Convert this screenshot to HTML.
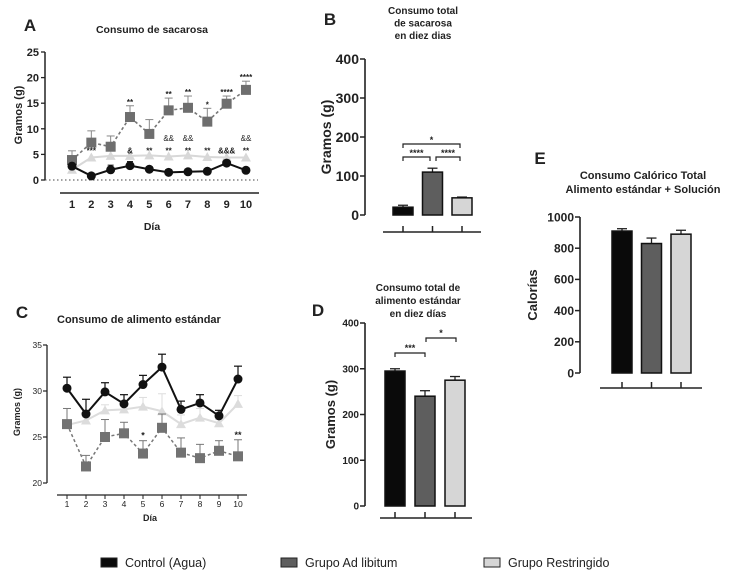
<!DOCTYPE html>
<html><head><meta charset="utf-8"><style>
html,body{margin:0;padding:0;background:#fff;}
svg{display:block;font-family:"Liberation Sans",sans-serif;}
</style></head><body>
<svg id="fig" width="736" height="579" viewBox="0 0 736 579"></svg>
<script>
// ---- data ----
const days = [1,2,3,4,5,6,7,8,9,10];
const aControl = [2.7,0.8,2.0,2.8,2.1,1.5,1.6,1.7,3.3,1.9];
const aControlErr = [0.6,0.3,0.9,0.8,0.5,0.4,0.4,0.4,0.6,0.4];
const aAdlib = [3.9,7.3,6.5,12.3,9.0,13.6,14.1,11.4,14.9,17.6];
const aAdlibErr = [1.8,2.3,2.1,2.2,2.8,2.4,2.3,2.6,1.5,1.7];
const aRestr = [2.0,4.4,4.7,4.7,4.8,4.6,4.8,4.5,4.4,4.4];
const aTicks = [0,5,10,15,20,25];
const aStarsTop = ["","","","**","","**","**","*","****","****"];
const aStarsLow = ["","***","","&","**","**","**","**","&&&","**"];
const aAmpLow = ["","","","","","&&","&&","","","&&"];
const cControl = [30.3,27.5,29.9,28.6,30.7,32.6,28.0,28.7,27.3,31.3];
const cControlErr = [1.2,1.6,1.0,1.0,1.0,1.4,0.9,0.9,0.6,1.4];
const cAdlib = [26.4,21.8,25.0,25.4,23.2,26.0,23.3,22.7,23.5,22.9];
const cAdlibErr = [1.7,1.2,1.9,1.2,1.4,1.5,1.6,1.5,1.1,1.8];
const cRestr = [26.3,26.8,27.9,28.0,28.3,27.8,26.4,27.1,26.5,28.6];
const cRestrErr = [1.8,0.4,0.6,0.6,1.0,1.9,1.0,1.0,0.4,0.9];
const cTicks = [20,25,30,35];
const cStars = ["","","","","*","","","","","**"];
const bValues = [20,110,44];
const bErr = [5,10,2];
const bTicks = [0,100,200,300,400];
const dValues = [295,240,275];
const dErr = [5,12,8];
const dTicks = [0,100,200,300,400];
const eValues = [910,830,890];
const eErr = [15,35,25];
const eTicks = [0,200,400,600,800,1000];
const groupColors = ["#0a0a0a","#5e5e5e","#d6d6d6"];
const legendLabels = ["Control (Agua)","Grupo Ad libitum","Grupo Restringido"];

const NS="http://www.w3.org/2000/svg";
const svg=document.getElementById('fig');
function mk(tag,attrs,parent,text){const e=document.createElementNS(NS,tag);for(const k in attrs)e.setAttribute(k,attrs[k]);if(text!==undefined)e.textContent=text;(parent||svg).appendChild(e);return e;}
function txt(x,y,s,size,opts,parent){opts=opts||{};const e=mk('text',{x:x,y:y,'font-size':size,'font-weight':opts.w||'bold','text-anchor':opts.a||'middle',fill:opts.f||'#222'},parent,s);if(opts.rot)e.setAttribute('transform','rotate(-90 '+x+' '+y+')');return e;}

// ---------- Panel A ----------
(function(){
 const g=mk('g',{});
 const y=v=>180-v*5.12, x=d=>72+(d-1)*19.33;
 txt(30,31,'A',17,{},g);
 txt(152,33,'Consumo de sacarosa',10.5,{},g);
 mk('line',{x1:45,y1:y(25),x2:45,y2:y(0),stroke:'#222','stroke-width':1.5},g);
 aTicks.forEach(t=>{mk('line',{x1:41,y1:y(t),x2:45,y2:y(t),stroke:'#222','stroke-width':1.3},g);txt(39,y(t)+4,String(t),11,{a:'end'},g);});
 mk('line',{x1:45,y1:180,x2:258,y2:180,stroke:'#444','stroke-width':1,'stroke-dasharray':'1.5 2.5'},g);
 mk('line',{x1:60,y1:193,x2:259,y2:193,stroke:'#222','stroke-width':1.5},g);
 days.forEach((d,i)=>txt(x(d),208,String(d),11,{},g));
 txt(152,230,'Día',10.5,{},g);
 txt(22,115,'Gramos (g)',11,{rot:1},g);
 mk('polyline',{points:aRestr.map((v,i)=>x(days[i])+','+y(v)).join(' '),fill:'none',stroke:'#d8d8d8','stroke-width':2},g);
 aRestr.forEach((v,i)=>{const p=mk('polygon',{points:`${x(days[i])},${y(v)-5} ${x(days[i])-5},${y(v)+4} ${x(days[i])+5},${y(v)+4}`,fill:'#d8d8d8'},g);});
 aAdlib.forEach((v,i)=>{const xx=x(days[i]);mk('line',{x1:xx,y1:y(v),x2:xx,y2:y(v+aAdlibErr[i]),stroke:'#888','stroke-width':1},g);mk('line',{x1:xx-4,y1:y(v+aAdlibErr[i]),x2:xx+4,y2:y(v+aAdlibErr[i]),stroke:'#888','stroke-width':1},g);});
 mk('polyline',{points:aAdlib.map((v,i)=>x(days[i])+','+y(v)).join(' '),fill:'none',stroke:'#777','stroke-width':1.6,'stroke-dasharray':'3 2.5'},g);
 aAdlib.forEach((v,i)=>{const r=mk('rect',{x:x(days[i])-5,y:y(v)-5,width:10,height:10,fill:'#6e6e6e'},g);});
 aControl.forEach((v,i)=>{const xx=x(days[i]);mk('line',{x1:xx,y1:y(v),x2:xx,y2:y(v+aControlErr[i]),stroke:'#111','stroke-width':1},g);mk('line',{x1:xx-3,y1:y(v+aControlErr[i]),x2:xx+3,y2:y(v+aControlErr[i]),stroke:'#111','stroke-width':1},g);});
 mk('polyline',{points:aControl.map((v,i)=>x(days[i])+','+y(v)).join(' '),fill:'none',stroke:'#111','stroke-width':2},g);
 aControl.forEach((v,i)=>{const c=mk('circle',{cx:x(days[i]),cy:y(v),r:4.5,fill:'#111'},g);});
 aStarsTop.forEach((s,i)=>{if(s)txt(x(days[i]),y(aAdlib[i]+aAdlibErr[i])-1,s,8,{},g);});
 aStarsLow.forEach((s,i)=>{if(s)txt(x(days[i]),y(5.6)+2,s,8,{},g);});
 aAmpLow.forEach((s,i)=>{if(s)txt(x(days[i]),y(8)+2,s,8,{w:'normal'},g);});
})();

// ---------- Panel C ----------
(function(){
 const g=mk('g',{});
 const y=v=>345+(35-v)*9.2, x=d=>67+(d-1)*19;
 txt(22,318,'C',17,{},g);
 txt(57,323,'Consumo de alimento estándar',11,{a:'start'},g);
 mk('line',{x1:47,y1:y(35),x2:47,y2:y(20),stroke:'#222','stroke-width':1.3},g);
 cTicks.forEach(t=>{mk('line',{x1:43,y1:y(t),x2:47,y2:y(t),stroke:'#222','stroke-width':1.2},g);txt(42,y(t)+3,String(t),8.5,{a:'end',w:'normal'},g);});
 mk('line',{x1:57,y1:495,x2:247,y2:495,stroke:'#222','stroke-width':1.3},g);
 days.forEach(d=>{mk('line',{x1:x(d),y1:495,x2:x(d),y2:499,stroke:'#222'},g);txt(x(d),507,String(d),8.5,{w:'normal'},g);});
 txt(150,521,'Día',9,{},g);
 txt(20,412,'Gramos (g)',9,{rot:1},g);
 cRestr.forEach((v,i)=>{const xx=x(days[i]);mk('line',{x1:xx,y1:y(v),x2:xx,y2:y(v+cRestrErr[i]),stroke:'#ddd'},g);mk('line',{x1:xx-4,y1:y(v+cRestrErr[i]),x2:xx+4,y2:y(v+cRestrErr[i]),stroke:'#ddd'},g);});
 mk('polyline',{points:cRestr.map((v,i)=>x(days[i])+','+y(v)).join(' '),fill:'none',stroke:'#dcdcdc','stroke-width':2},g);
 cRestr.forEach((v,i)=>{const p=mk('polygon',{points:`${x(days[i])},${y(v)-5} ${x(days[i])-5},${y(v)+4} ${x(days[i])+5},${y(v)+4}`,fill:'#dcdcdc'},g);});
 cAdlib.forEach((v,i)=>{const xx=x(days[i]);mk('line',{x1:xx,y1:y(v),x2:xx,y2:y(v+cAdlibErr[i]),stroke:'#777'},g);mk('line',{x1:xx-4,y1:y(v+cAdlibErr[i]),x2:xx+4,y2:y(v+cAdlibErr[i]),stroke:'#777'},g);});
 mk('polyline',{points:cAdlib.map((v,i)=>x(days[i])+','+y(v)).join(' '),fill:'none',stroke:'#777','stroke-width':1.5,'stroke-dasharray':'3 2.5'},g);
 cAdlib.forEach((v,i)=>{const r=mk('rect',{x:x(days[i])-5,y:y(v)-5,width:10,height:10,fill:'#727272'},g);});
 cControl.forEach((v,i)=>{const xx=x(days[i]);mk('line',{x1:xx,y1:y(v),x2:xx,y2:y(v+cControlErr[i]),stroke:'#111','stroke-width':1.2},g);mk('line',{x1:xx-4,y1:y(v+cControlErr[i]),x2:xx+4,y2:y(v+cControlErr[i]),stroke:'#111','stroke-width':1.2},g);});
 mk('polyline',{points:cControl.map((v,i)=>x(days[i])+','+y(v)).join(' '),fill:'none',stroke:'#111','stroke-width':2},g);
 cControl.forEach((v,i)=>{const c=mk('circle',{cx:x(days[i]),cy:y(v),r:4.5,fill:'#111'},g);});
 cStars.forEach((s,i)=>{if(s)txt(x(days[i]),y(cAdlib[i]+cAdlibErr[i])-2,s,9,{},g);});
})();

// ---------- bar panel helper ----------
function barPanel(name,vals,errs,ticks,o){
 const g=mk('g',{});
 const max=ticks[ticks.length-1];
 const y=v=>o.y0-(v/max)*(o.y0-o.yTop);
 mk('line',{x1:o.ax,y1:o.yTop,x2:o.ax,y2:o.y0,stroke:'#222','stroke-width':1.6},g);
 ticks.forEach(t=>{mk('line',{x1:o.ax-5,y1:y(t),x2:o.ax,y2:y(t),stroke:'#222','stroke-width':1.5},g);txt(o.ax-6,y(t)+o.fs*0.36,String(t),o.fs,{a:'end'},g);});
 mk('line',{x1:o.xl1,y1:o.xline,x2:o.xl2,y2:o.xline,stroke:'#222','stroke-width':1.5},g);
 vals.forEach((v,i)=>{
  const cx=o.c0+i*o.step;
  mk('line',{x1:cx,y1:o.xline,x2:cx,y2:o.xline-6,stroke:'#222','stroke-width':1.5},g);
  mk('line',{x1:cx,y1:y(v),x2:cx,y2:y(v+errs[i]),stroke:'#222','stroke-width':1.3},g);
  mk('line',{x1:cx-5,y1:y(v+errs[i]),x2:cx+5,y2:y(v+errs[i]),stroke:'#222','stroke-width':1.3},g);
  const r=mk('rect',{x:cx-o.bw/2,y:y(v),width:o.bw,height:o.y0-y(v),fill:groupColors[i],stroke:'#111','stroke-width':1.5},g);
  
 });
 txt(o.labX,(o.yTop+o.y0)/2,o.ylab,o.labFs,{rot:1},g);
 txt(o.letX,o.letY,o.letter,17,{},g);
 o.title.forEach((t,i)=>txt(o.tx,o.ty+i*o.tl,t,o.tfs,{},g));
 return {g,y};
}
(function(){
 const o={ax:365,yTop:59,y0:215,xline:232,xl1:383,xl2:481,c0:403,step:29.5,bw:20,fs:14,ylab:'Gramos (g)',labFs:14,labX:331,letter:'B',letX:330,letY:25,title:['Consumo total','de sacarosa','en diez dias'],tx:423,ty:14,tl:12.5,tfs:10};
 const {g,y}=barPanel('panel-b',bValues,bErr,bTicks,o);
 const br=(x1,x2,yy,s)=>{mk('polyline',{points:`${x1},${yy+4} ${x1},${yy} ${x2},${yy} ${x2},${yy+4}`,fill:'none',stroke:'#222','stroke-width':1.2},g);txt((x1+x2)/2,yy-1,s,9,{},g);};
 br(403,460,144,'*'); br(403,430,157,'****'); br(436,460,157,'****');
})();
(function(){
 const o={ax:365,yTop:323,y0:506,xline:518,xl1:380,xl2:472,c0:395,step:30,bw:20,fs:10,ylab:'Gramos (g)',labFs:13,labX:335,letter:'D',letX:318,letY:316,title:['Consumo total de','alimento estándar','en diez días'],tx:418,ty:291,tl:13,tfs:10};
 const {g}=barPanel('panel-d',dValues,dErr,dTicks,o);
 const br=(x1,x2,yy,s)=>{mk('polyline',{points:`${x1},${yy+4} ${x1},${yy} ${x2},${yy} ${x2},${yy+4}`,fill:'none',stroke:'#222','stroke-width':1.2},g);txt((x1+x2)/2,yy-2,s,9,{},g);};
 br(395,425,353,'***'); br(426,456,338,'*');
})();
barPanel('panel-e',eValues,eErr,eTicks,{ax:580,yTop:217,y0:373,xline:388,xl1:600,xl2:702,c0:622,step:29.5,bw:20,fs:12,ylab:'Calorías',labFs:13,labX:537,letter:'E',letX:540,letY:164,title:['Consumo Calórico Total','Alimento estándar + Solución'],tx:643,ty:179,tl:14,tfs:11});

// ---------- legend ----------
const legX=[101,281,484];
legendLabels.forEach((l,i)=>{
 const g=mk('g',{});
 mk('rect',{x:legX[i],y:558,width:16,height:9,fill:groupColors[i],stroke:'#222','stroke-width':1},g);
 txt(legX[i]+24,567,l,12.5,{a:'start',w:'normal'},g);
});
</script>
</body></html>
